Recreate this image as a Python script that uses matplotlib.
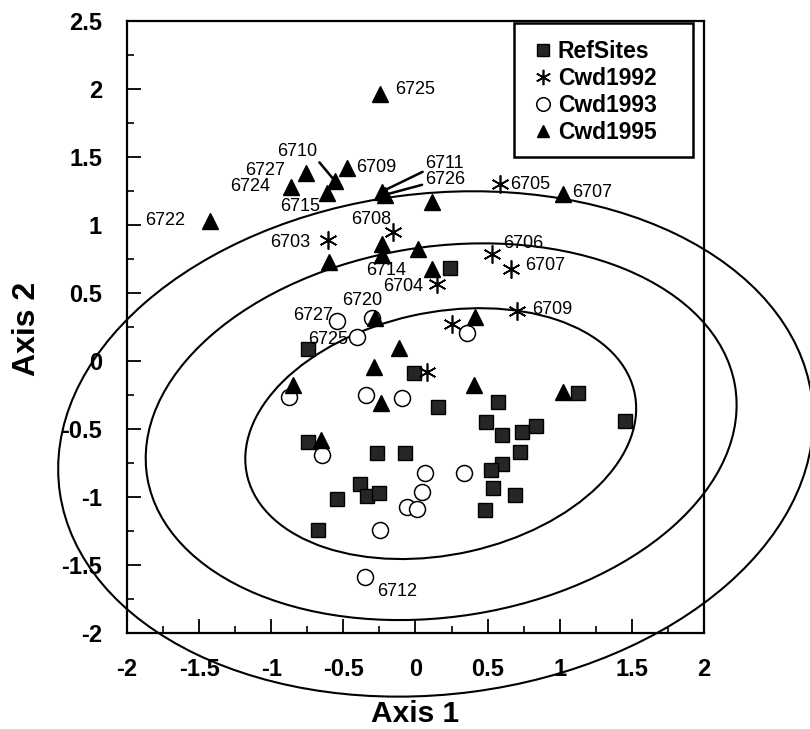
import matplotlib
matplotlib.use('Agg')
import matplotlib.pyplot as plt
from matplotlib.patches import Ellipse, Rectangle
from matplotlib.ticker import MultipleLocator, FuncFormatter

plt.rcParams['font.family'] = ['Liberation Sans', 'DejaVu Sans']
plt.rcParams['axes.unicode_minus'] = False

# ---------------- data ----------------
ref_x = [-0.743, -0.008, 0.154, 1.452, 1.128, -0.743, -0.265, -0.073, -0.385, -0.338,
         -0.251, -0.542, -0.674, 0.486, 0.570, 0.600, 0.736, 0.835, 0.724, 0.597,
         0.521, 0.539, 0.690, 0.482, 0.239]
ref_y = [0.089, -0.091, -0.337, -0.440, -0.236, -0.595, -0.674, -0.679, -0.908, -0.994,
         -0.974, -1.018, -1.240, -0.445, -0.300, -0.544, -0.519, -0.477, -0.669, -0.755,
         -0.804, -0.932, -0.989, -1.092, 0.684]

cwd92_x = [0.586, -0.154, -0.604, 0.528, 0.660, 0.147, 0.705, 0.255, 0.078]
cwd92_y = [1.300, 0.950, 0.888, 0.790, 0.674, 0.568, 0.364, 0.273, -0.083]
cwd92_lab = ['6705', '6708', '6703', '6706', '6707', '6704', '6709', '', '']

cwd93_x = [-0.542, -0.303, -0.408, 0.359, -0.875, -0.345, -0.096, -0.650, 0.064, 0.336,
           0.043, -0.061, 0.008, -0.246, -0.348]
cwd93_y = [0.297, 0.315, 0.175, 0.207, -0.263, -0.251, -0.275, -0.694, -0.827, -0.822,
           -0.964, -1.075, -1.085, -1.240, -1.589]
cwd93_lab = ['6727', '', '6725', '', '', '', '', '', '', '', '', '', '', '', '6712']

cwd95_x = [-0.245, -1.424, -0.863, -0.759, -0.615, -0.558, -0.477, -0.234, -0.212, 0.112,
           1.024, -0.597, -0.234, -0.234, 0.020, 0.112, -0.280, 0.412, -0.114, -0.288,
           -0.851, -0.239, 0.405, 1.024, -0.655]
cwd95_y = [1.963, 1.031, 1.282, 1.385, 1.238, 1.323, 1.422, 1.245, 1.222, 1.170,
           1.227, 0.728, 0.863, 0.777, 0.820, 0.674, 0.315, 0.320, 0.094, -0.047,
           -0.177, -0.312, -0.175, -0.226, -0.580]
cwd95_lab = ['6725', '6722', '6724', '6727', '6715', '6710', '6709', '6711', '6726', '',
             '6707', '', '', '6714', '', '', '6720', '', '', '',
             '', '', '', '', '']

series_names = ['RefSites', 'Cwd1992', 'Cwd1993', 'Cwd1995']

# confidence ellipses (centre, full width, full height, rotation in degrees)
ell_cx = [0.175, 0.178, 0.140]
ell_cy = [-0.534, -0.520, -0.610]
ell_w = [2.754, 4.130, 5.260]
ell_h = [1.778, 2.720, 3.680]
ell_ang = [13.5, 9.7, 7.9]

# ---------------- layout / style ----------------
label_offsets = {  # pixel offsets of site labels from their point
    ('Cwd1995', '6725'): (35, 5), ('Cwd1995', '6722'): (-45, 0),
    ('Cwd1995', '6724'): (-41, 0), ('Cwd1995', '6727'): (-41, 2),
    ('Cwd1995', '6715'): (-27, -14), ('Cwd1995', '6710'): (-38, 30),
    ('Cwd1995', '6709'): (30, 0), ('Cwd1995', '6711'): (63, 28),
    ('Cwd1995', '6726'): (60, 15), ('Cwd1995', '6707'): (29, 2),
    ('Cwd1995', '6714'): (4, -15), ('Cwd1995', '6720'): (-13, 18),
    ('Cwd1992', '6705'): (30, 0), ('Cwd1992', '6708'): (-22, 12),
    ('Cwd1992', '6703'): (-38, -2), ('Cwd1992', '6706'): (32, 10),
    ('Cwd1992', '6707'): (34, 4), ('Cwd1992', '6709'): (35, 2),
    ('Cwd1992', '6704'): (-34, -3),
    ('Cwd1993', '6727'): (-24, 5), ('Cwd1993', '6725'): (-29, -2),
    ('Cwd1993', '6712'): (32, -14),
}
leaders = {('Cwd1995', '6710'): (1.0, 0.0),
           ('Cwd1995', '6711'): (0.0, 0.1),
           ('Cwd1995', '6726'): (0.0, 0.25)}

fig = plt.figure(figsize=(8.1, 7.29), dpi=100)
ax = fig.add_axes([0.1568, 0.1317, 0.7123, 0.8395])
ax.set_xlim(-2, 2)
ax.set_ylim(-2, 2.5)

for cx, cy, w, h, a in zip(ell_cx, ell_cy, ell_w, ell_h, ell_ang):
    ax.add_patch(Ellipse((cx, cy), w, h, angle=a, fill=False, ec='black',
                         lw=1.5, clip_on=False, zorder=1))

h_ref, = ax.plot(ref_x, ref_y, ls='none', marker='s', ms=10.5, mfc='#262626',
                 mec='black', mew=1, zorder=3, label=series_names[0])
h93, = ax.plot(cwd93_x, cwd93_y, ls='none', marker='o', ms=11.5, mfc='white',
               mec='black', mew=1.1, zorder=4, label=series_names[2])
h92, = ax.plot(cwd92_x, cwd92_y, ls='none', marker=(6, 2, 0), ms=13,
               mec='black', mew=1.2, zorder=5, label=series_names[1])
h95, = ax.plot(cwd95_x, cwd95_y, ls='none', marker='^', ms=11, mfc='black',
               mec='black', mew=1, zorder=6, label=series_names[3])

for name, xs, ys, labs in [('Cwd1992', cwd92_x, cwd92_y, cwd92_lab),
                           ('Cwd1993', cwd93_x, cwd93_y, cwd93_lab),
                           ('Cwd1995', cwd95_x, cwd95_y, cwd95_lab)]:
    for x, y, lab in zip(xs, ys, labs):
        if not lab:
            continue
        dx, dy = label_offsets[(name, lab)]
        kw = {}
        if (name, lab) in leaders:
            kw['arrowprops'] = dict(arrowstyle='-', color='black', lw=1.8,
                                    shrinkA=0, shrinkB=1.5,
                                    relpos=leaders[(name, lab)])
        ax.annotate(lab, (x, y), xytext=(dx, dy), textcoords='offset pixels',
                    ha='center', va='center', fontsize=13, zorder=7, **kw)

# axes styling
for s in ax.spines.values():
    s.set_linewidth(1.6)
ax.xaxis.set_major_locator(MultipleLocator(0.5))
ax.xaxis.set_minor_locator(MultipleLocator(0.25))
ax.yaxis.set_major_locator(MultipleLocator(0.5))
ax.yaxis.set_minor_locator(MultipleLocator(0.25))
fmt = FuncFormatter(lambda v, p: f'{v:g}')
ax.xaxis.set_major_formatter(fmt)
ax.yaxis.set_major_formatter(fmt)
ax.tick_params(which='major', direction='in', length=10, width=1.3, pad=18,
               labelsize=17)
ax.tick_params(which='minor', direction='in', length=5, width=1.2)
for t in ax.get_xticklabels() + ax.get_yticklabels():
    t.set_fontweight('bold')

ax.set_xlabel('Axis 1', fontsize=21.5, fontweight='bold')
ax.set_ylabel('Axis 2', fontsize=23, fontweight='bold')
ax.xaxis.set_label_coords(0.5, -0.109)
ax.yaxis.set_label_coords(-0.147, 0.497)

# legend with a separate frame
ax.add_patch(Rectangle((0.671, 0.777), 0.310, 0.220, transform=ax.transAxes,
                       facecolor='white', edgecolor='black', lw=1.8, zorder=8))
leg = ax.legend(handles=[h_ref, h92, h93, h95], loc='upper left',
                bbox_to_anchor=(0.701, 0.969), frameon=False, borderpad=0,
                borderaxespad=0, handlelength=1.0, handletextpad=0.15,
                labelspacing=0.17, markerscale=0.85,
                prop={'weight': 'bold', 'size': 16.5})
leg.set_zorder(9)

fig.savefig('out.png', dpi=100)
